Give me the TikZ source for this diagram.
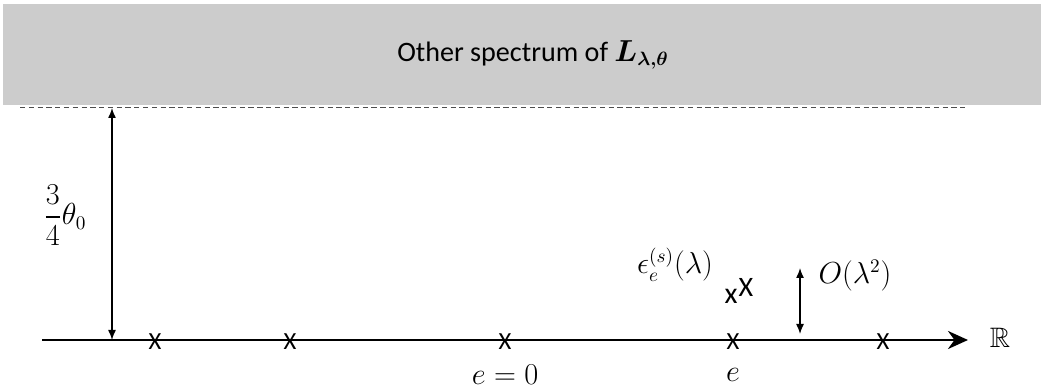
\documentclass[tikz,border=0pt]{standalone}
\usepackage{amsmath,amssymb,bm}
\usepackage{fontspec}
\setmainfont{Carlito}
\usetikzlibrary{arrows.meta}
\def\axisy{1.0}
\def\gapy{5.66}
\def\crossy{0.96}
\def\labely{0.3}

\begin{document}
\begin{tikzpicture}[
		font=\fontsize{16}{19}\selectfont,
		band/.style={fill=black!20,draw=none},
		gapline/.style={densely dashed,line width=0.5pt,draw=black!70},
		axis/.style={-{Stealth[length=4mm,width=3.6mm]},line width=1.6pt},
		dbl/.style={{Latex[length=2mm,width=1.6mm]}-{Latex[length=2mm,width=1.6mm]},line width=0.8pt},
		cross/.style={inner sep=0pt,font=\fontsize{14}{16}\selectfont},
		lbl/.style={inner sep=1pt,font=\fontsize{16}{19}\selectfont}]
		
		\useasboundingbox (0,0) rectangle (20.82,7.8);
		
		% ============ oberes Spektrum ============
		\fill[band] (0.06,5.7) rectangle (20.82,7.72);
		\node[inner sep=0pt] (title) at (10.66,6.7) {Other spectrum of $\bm{L_{\lambda,\theta}}$};
		\coordinate (gl) at (0.4,\gapy);
		\coordinate (gr) at (19.3,\gapy);
		\draw[gapline] (gl) -- (gr);
		
		% ============ reelle Achse ============
		\coordinate (axl) at (0.84,\axisy);
		\coordinate (axr) at (19.36,\axisy);
		\draw[axis] (axl) -- (axr);
		\node[lbl] (R) at (20.0,1.04) {$\mathbb{R}$};
		
		% Eigenwerte auf der Achse
		\node[cross] (x1) at (3.1,\crossy) {X};
		\node[cross] (x2) at (5.8,\crossy) {X};
		\node[cross] (x0) at (10.1,\crossy) {X};
		\node[cross] (xe) at (14.66,\crossy) {X};
		\node[cross] (x4) at (17.66,\crossy) {X};
		\node[lbl] (e0) at (10.1,\labely) {$e=0$};
		\node[lbl] (e) at (14.66,\labely) {$e$};
		
		% ============ Abstand zum Rest ============
		\coordinate (gb) at (2.24,\axisy);
		\coordinate (gt) at (2.24,5.64);
		\draw[dbl] (gb) -- (gt);
		\node[lbl] (gap) at (1.3,3.5) {$\dfrac{3}{4}\theta_0$};
		
		% ============ verschobene Eigenwerte ============
		\node[cross,font=\fontsize{17}{19}\selectfont] (s1) at (14.62,1.88) {x};
		\node[cross,font=\fontsize{16}{18}\selectfont] (s2) at (14.92,2.05) {X};
		\node[lbl] (eps) at (13.5,2.5) {$\epsilon_e^{(s)}(\lambda)$};
		\coordinate (ob) at (16.0,1.12);
		\coordinate (ot) at (16.0,2.44);
		\draw[dbl] (ob) -- (ot);
		\node[lbl] (ord) at (17.1,2.28) {$O(\lambda^2)$};
		
	\end{tikzpicture}
\end{document}
